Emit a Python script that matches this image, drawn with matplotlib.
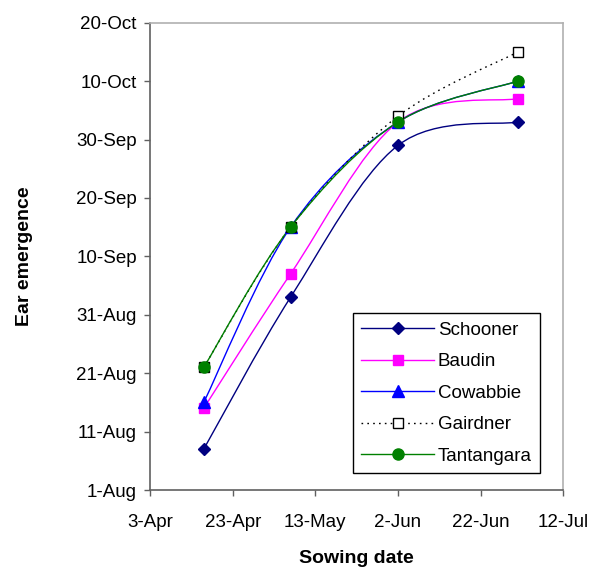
import pandas as pd
import matplotlib
matplotlib.use('Agg')
import matplotlib.pyplot as plt
import matplotlib.dates as mdates
from matplotlib.path import Path
from matplotlib.patches import PathPatch
from matplotlib.lines import Line2D

plt.rcParams['font.family'] = ['Liberation Sans', 'DejaVu Sans']

# 数据
YEAR = 2006
sowing_dates = ['16-Apr', '7-May', '2-Jun', '1-Jul']
schooner = ['8-Aug', '3-Sep', '29-Sep', '3-Oct']
baudin = ['15-Aug', '7-Sep', '3-Oct', '7-Oct']
cowabbie = ['16-Aug', '15-Sep', '3-Oct', '10-Oct']
gairdner = ['22-Aug', '15-Sep', '4-Oct', '15-Oct']
tantangara = ['22-Aug', '15-Sep', '3-Oct', '10-Oct']

x_ticks = ['3-Apr', '23-Apr', '13-May', '2-Jun', '22-Jun', '12-Jul']
y_ticks = ['1-Aug', '11-Aug', '21-Aug', '31-Aug', '10-Sep', '20-Sep',
           '30-Sep', '10-Oct', '20-Oct']


def to_num(labels):
    d = pd.to_datetime([f'{s}-{YEAR}' for s in labels], format='%d-%b-%Y')
    return mdates.date2num(d.to_pydatetime())


series = [
    ('Schooner', schooner, dict(color='#000080', marker='D', ms=6.5, mfc='#000080', mec='#000080', ls='-')),
    ('Baudin', baudin, dict(color='#FF00FF', marker='s', ms=7, mfc='#FF00FF', mec='#FF00FF', ls='-')),
    ('Cowabbie', cowabbie, dict(color='#0000FF', marker='^', ms=8.5, mfc='#0000FF', mec='#0000FF', ls='-')),
    ('Gairdner', gairdner, dict(color='black', marker='s', ms=7, mfc='white', mec='black', ls=(0, (1.2, 3)))),
    ('Tantangara', tantangara, dict(color='#008000', marker='o', ms=8, mfc='#008000', mec='#008000', ls='-')),
]


def smooth_path(xs, ys):
    """Excel 风格平滑线 (Catmull-Rom -> Bezier)"""
    pts = list(zip(xs, ys))
    n = len(pts)
    verts = [pts[0]]
    codes = [Path.MOVETO]
    for i in range(n - 1):
        p0 = pts[i - 1] if i > 0 else pts[i]
        p1 = pts[i]
        p2 = pts[i + 1]
        p3 = pts[i + 2] if i + 2 < n else pts[i + 1]
        c1 = (p1[0] + (p2[0] - p0[0]) / 6, p1[1] + (p2[1] - p0[1]) / 6)
        c2 = (p2[0] - (p3[0] - p1[0]) / 6, p2[1] - (p3[1] - p1[1]) / 6)
        verts += [c1, c2, p2]
        codes += [Path.CURVE4] * 3
    return Path(verts, codes)


fig = plt.figure(figsize=(5.93, 5.68), dpi=100)
ax = fig.add_axes([0.253, 0.1373, 0.697, 0.8227])

xs = to_num(sowing_dates)
handles = []
for name, vals, st in series:
    ys = to_num(vals)
    ax.add_patch(PathPatch(smooth_path(xs, ys), facecolor='none', edgecolor=st['color'],
                           linewidth=1.0, linestyle=st['ls']))
    ax.plot(xs, ys, linestyle='none', marker=st['marker'], markersize=st['ms'],
            markerfacecolor=st['mfc'], markeredgecolor=st['mec'], markeredgewidth=1.0)
    handles.append(Line2D([], [], color=st['color'], linestyle=st['ls'], linewidth=1.0,
                          marker=st['marker'], markersize=st['ms'],
                          markerfacecolor=st['mfc'], markeredgecolor=st['mec']))

xt = to_num(x_ticks)
yt = to_num(y_ticks)
ax.set_xlim(xt[0], xt[-1])
ax.set_ylim(yt[0], yt[-1])
ax.set_xticks(xt)
ax.set_xticklabels(x_ticks)
ax.set_yticks(yt)
ax.set_yticklabels(y_ticks)
ax.tick_params(labelsize=13.5, length=4.5, width=1, color='#606060', pad=5)
ax.tick_params(axis='x', pad=12.5)

for side in ['left', 'bottom']:
    ax.spines[side].set_color('#606060')
    ax.spines[side].set_linewidth(1.2)
for side in ['top', 'right']:
    ax.spines[side].set_color('#b0b0b0')
    ax.spines[side].set_linewidth(1.2)

ax.set_xlabel('Sowing date', fontsize=14, fontweight='bold', labelpad=14)
ax.set_ylabel('Ear emergence', fontsize=14, fontweight='bold', labelpad=31)

leg = ax.legend(handles, [s[0] for s in series], loc='lower left',
                bbox_to_anchor=(0.49, 0.036), borderaxespad=0, fontsize=13.5,
                handlelength=3.9, handletextpad=0.2, labelspacing=0.77,
                borderpad=0.45, fancybox=False, framealpha=1, edgecolor='black')
leg.get_frame().set_linewidth(1.0)

plt.savefig('out.png', dpi=100)
